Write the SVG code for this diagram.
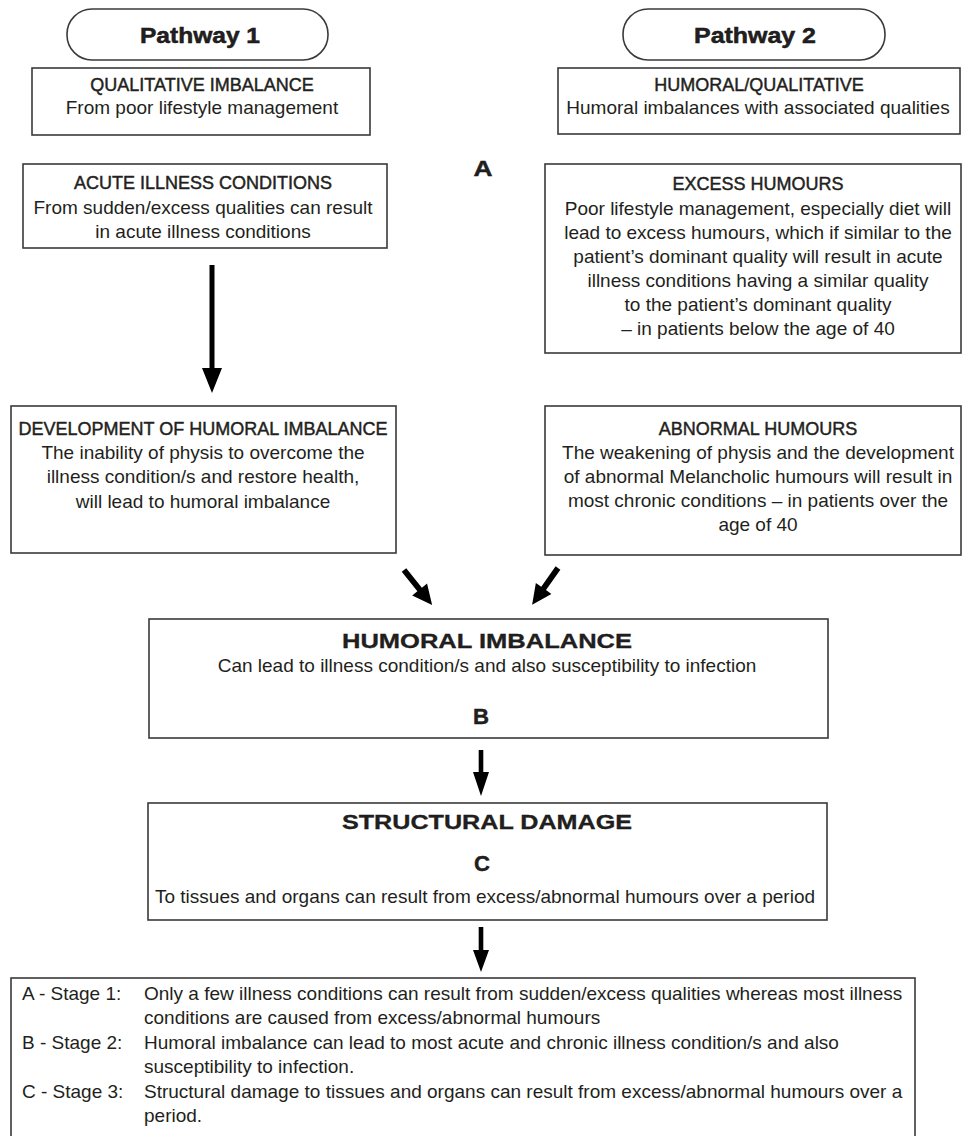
<svg xmlns="http://www.w3.org/2000/svg" width="963" height="1136" viewBox="0 0 963 1136">
<style>
  .bg { fill: #ffffff; }
  .box { fill: #ffffff; stroke: #3a3a3a; stroke-width: 1.6; }
  .pill { fill: #ffffff; stroke: #3a3a3a; stroke-width: 1.6; }
  text { font-family: "Liberation Sans", Arial, sans-serif; fill: #231f20; }
  .c { text-anchor: middle; }
  .body { font-size: 19px; }
  .head { font-size: 18px; stroke: #231f20; stroke-width: 0.45; }
  .ptitle { font-size: 22px; font-weight: bold; stroke: #111; stroke-width: 0.5; }
  .big { font-size: 21px; font-weight: bold; stroke: #111; stroke-width: 0.3; }
  .letter { font-size: 22px; font-weight: bold; stroke: #111; stroke-width: 0.4; }
  .arrow { fill: #000000; }
</style>
<defs>
  <path id="diagArrow" d="M0,-2.9 H25 V-9.5 L45,0 L25,9.5 V2.9 H0 Z"/>
</defs>
<rect class="bg" x="0" y="0" width="963" height="1136"/>

<g id="pathway1">
  <rect class="pill" x="67" y="9" width="261" height="51" rx="25" ry="25"/>
  <text class="c ptitle" x="200" y="43" textLength="120" lengthAdjust="spacingAndGlyphs">Pathway 1</text>
</g>
<g id="pathway2">
  <rect class="pill" x="623" y="9" width="262" height="51" rx="25" ry="25"/>
  <text class="c ptitle" x="755" y="43" textLength="122" lengthAdjust="spacingAndGlyphs">Pathway 2</text>
</g>

<g id="qualitative-imbalance">
  <rect class="box" x="32" y="68" width="338" height="67"/>
  <text class="c head" x="202" y="91">QUALITATIVE IMBALANCE</text>
  <text class="c body" x="202" y="114">From poor lifestyle management</text>
</g>

<g id="humoral-qualitative">
  <rect class="box" x="558" y="68" width="402" height="66"/>
  <text class="c head" x="759" y="91">HUMORAL/QUALITATIVE</text>
  <text class="c body" x="758" y="114">Humoral imbalances with associated qualities</text>
</g>

<g id="label-a">
  <text class="c letter" x="483" y="176" textLength="19" lengthAdjust="spacingAndGlyphs">A</text>
</g>

<g id="acute-illness">
  <rect class="box" x="23" y="164" width="364" height="84"/>
  <text class="c head" x="203" y="189">ACUTE ILLNESS CONDITIONS</text>
  <text class="c body" x="203" y="214">From sudden/excess qualities can result</text>
  <text class="c body" x="203" y="238">in acute illness conditions</text>
</g>

<g id="development">
  <rect class="box" x="11" y="406" width="385" height="147"/>
  <text class="c head" x="203" y="435">DEVELOPMENT OF HUMORAL IMBALANCE</text>
  <text class="c body" x="203" y="459">The inability of physis to overcome the</text>
  <text class="c body" x="203" y="483">illness condition/s and restore health,</text>
  <text class="c body" x="203" y="508">will lead to humoral imbalance</text>
</g>

<g id="excess-humours">
  <rect class="box" x="545" y="164" width="416" height="189"/>
  <text class="c head" x="758" y="190">EXCESS HUMOURS</text>
  <text class="c body" x="758" y="215">Poor lifestyle management, especially diet will</text>
  <text class="c body" x="758" y="239">lead to excess humours, which if similar to the</text>
  <text class="c body" x="758" y="263">patient’s dominant quality will result in acute</text>
  <text class="c body" x="758" y="287">illness conditions having a similar quality</text>
  <text class="c body" x="758" y="311">to the patient’s dominant quality</text>
  <text class="c body" x="758" y="335">– in patients below the age of 40</text>
</g>

<g id="abnormal-humours">
  <rect class="box" x="545" y="406" width="416" height="149"/>
  <text class="c head" x="758" y="435">ABNORMAL HUMOURS</text>
  <text class="c body" x="758" y="459">The weakening of physis and the development</text>
  <text class="c body" x="758" y="483">of abnormal Melancholic humours will result in</text>
  <text class="c body" x="758" y="507">most chronic conditions – in patients over the</text>
  <text class="c body" x="758" y="531">age of 40</text>
</g>

<g id="humoral-imbalance">
  <rect class="box" x="149" y="619" width="679" height="119"/>
  <text class="c big" x="487" y="648" textLength="290" lengthAdjust="spacingAndGlyphs">HUMORAL IMBALANCE</text>
  <text class="c body" x="487" y="672">Can lead to illness condition/s and also susceptibility to infection</text>
  <text class="c letter" x="481" y="724" textLength="16" lengthAdjust="spacingAndGlyphs">B</text>
</g>

<g id="structural-damage">
  <rect class="box" x="148" y="803" width="679" height="117"/>
  <text class="c big" x="487" y="829" textLength="290" lengthAdjust="spacingAndGlyphs">STRUCTURAL DAMAGE</text>
  <text class="c letter" x="482" y="871" textLength="16" lengthAdjust="spacingAndGlyphs">C</text>
  <text class="c body" x="485" y="903">To tissues and organs can result from excess/abnormal humours over a period</text>
</g>

<g id="legend">
  <rect class="box" x="11" y="978" width="904" height="200"/>
  <text class="body" x="22" y="1000">A - Stage 1:</text>
  <text class="body" x="144" y="1000">Only a few illness conditions can result from sudden/excess qualities whereas most illness</text>
  <text class="body" x="144" y="1024">conditions are caused from excess/abnormal humours</text>
  <text class="body" x="22" y="1049">B - Stage 2:</text>
  <text class="body" x="144" y="1049">Humoral imbalance can lead to most acute and chronic illness condition/s and also</text>
  <text class="body" x="144" y="1073">susceptibility to infection.</text>
  <text class="body" x="22" y="1098">C - Stage 3:</text>
  <text class="body" x="144" y="1098">Structural damage to tissues and organs can result from excess/abnormal humours over a</text>
  <text class="body" x="144" y="1122">period.</text>
</g>

<g id="connectors">
  <path class="arrow" d="M209.5,265 H214.5 V368 H222 L212,393 L202,368 H209.5 Z"/>
  <use class="arrow" href="#diagArrow" transform="translate(404,570) rotate(51.3)"/>
  <use class="arrow" href="#diagArrow" transform="translate(558,568) rotate(125.1)"/>
  <path class="arrow" d="M478.7,750 H483.3 V772 H489 L481,796 L473,772 H478.7 Z"/>
  <path class="arrow" d="M478.7,927 H483.3 V950 H489 L481,972 L473,950 H478.7 Z"/>
</g>
</svg>
